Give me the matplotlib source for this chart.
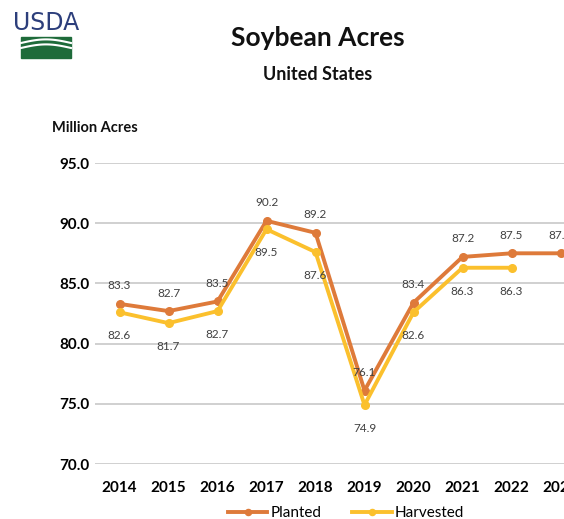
import matplotlib.pyplot as plt
import matplotlib.patches as mpatches
import numpy as np

years = ['2014', '2015', '2016', '2017', '2018', '2019', '2020', '2021', '2022', '2023']
planted = [83.3, 82.7, 83.5, 90.2, 89.2, 76.1, 83.4, 87.2, 87.5, 87.5]
harvested = [82.6, 81.7, 82.7, 89.5, 87.6, 74.9, 82.6, 86.3, 86.3]
yticks = [70.0, 75.0, 80.0, 85.0, 90.0, 95.0]

plt.rcParams['font.family'] = ['Lato', 'DejaVu Sans']

W, H = 564, 519
fig = plt.figure(figsize=(W / 100, H / 100), dpi=100)

# plot area runs past the right edge, so the last year is cut off
ax = fig.add_axes([95 / W, 1 - 464 / H, 490 / W, 301 / H])
x = np.arange(len(years))

orange = '#DE7A3A'
yellow = '#FBC02D'

ax.plot(x, planted, color=orange, lw=2.8, marker='o', ms=5.5, label='Planted', zorder=3)
ax.plot(x[:len(harvested)], harvested, color=yellow, lw=2.8, marker='o', ms=5.5,
        label='Harvested', zorder=3)

for xi, v in zip(x, planted):
    ax.annotate(f'{v:.1f}', (xi, v), xytext=(0, 13), textcoords='offset points',
                ha='center', va='center', fontsize=8.5, color='#404040')
for xi, v in zip(x, harvested):
    ax.annotate(f'{v:.1f}', (xi, v), xytext=(0, -17), textcoords='offset points',
                ha='center', va='center', fontsize=8.5, color='#404040')

ax.set_xlim(-0.5, len(years) - 0.5)
ax.set_ylim(70, 95)
ax.set_yticks(yticks)
ax.set_yticklabels([f'{t:.1f}' for t in yticks], fontsize=11, fontweight='bold')
ax.set_xticks(x)
ax.set_xticklabels(years, fontsize=11, fontweight='bold')
ax.tick_params(length=0, pad=4)
ax.tick_params(axis='x', pad=12)
ax.grid(axis='y', color='#c8c8c8', lw=1.2)
ax.set_axisbelow(True)
for s in ax.spines.values():
    s.set_visible(False)

fig.legend(loc='center', bbox_to_anchor=(346 / W, 1 - 513 / H), ncol=2, frameon=False,
           fontsize=11, handlelength=2.6, columnspacing=2.0, handletextpad=0.2,
           markerscale=0.8)

fig.text(318 / W, 1 - 38 / H, 'Soybean Acres', ha='center', va='center',
         fontsize=19, fontweight='bold', color='#111111')
fig.text(318 / W, 1 - 74 / H, 'United States', ha='center', va='center',
         fontsize=13, fontweight='bold', color='#111111')
fig.text(52 / W, 1 - 128 / H, 'Million Acres', ha='left', va='center',
         fontsize=10.5, fontweight='bold', color='#111111')

# USDA mark
fig.text(46 / W, 1 - 23 / H, 'USDA', ha='center', va='center', fontsize=17,
         color='#2C3E7B', family=['Liberation Sans Narrow', 'DejaVu Sans'])
fig.patches.append(mpatches.Rectangle((21 / W, 1 - 58 / H), 50 / W, 21 / H,
                                      transform=fig.transFigure, color='#1E6B3A'))
for off in (0, 5):
    xs = np.linspace(21, 71, 30)
    ys = 43 + off - 6 * np.sin((xs - 21) / 50 * np.pi) * 0.6
    fig.lines.append(plt.Line2D(xs / W, 1 - ys / H, transform=fig.transFigure,
                                color='white', lw=1.5))

fig.savefig('out.png', dpi=100)
